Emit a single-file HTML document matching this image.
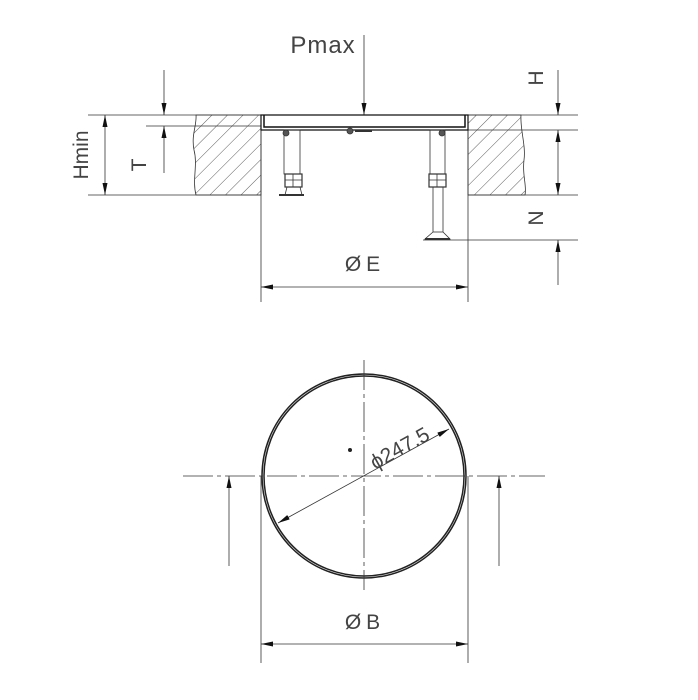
<!DOCTYPE html>
<html><head><meta charset="utf-8"><style>body{margin:0;background:#fff}svg{display:block}text{font-family:"Liberation Sans",sans-serif;fill:#444}</style></head><body>
<svg width="698" height="700" viewBox="0 0 698 700" xmlns="http://www.w3.org/2000/svg">
<defs>
<pattern id="h" width="11" height="11" patternUnits="userSpaceOnUse" patternTransform="rotate(45)"><line x1="0" y1="0" x2="0" y2="11" stroke="#333" stroke-width="0.8"/></pattern>
<marker id="a" viewBox="0 0 12 6" refX="12" refY="3" markerWidth="12" markerHeight="6" orient="auto-start-reverse" markerUnits="userSpaceOnUse"><path d="M0,0.5 L12,3 L0,5.5z" fill="#111"/></marker>
</defs>
<g stroke="#333" stroke-width="0.8" fill="none">
<path d="M196,115 H261 V195 H196 C192,180 198,165 194,150 C191,135 197,125 196,115z" fill="url(#h)"/>
<path d="M468,115 H521 C520,130 526,145 524,160 C522,175 527,185 525,195 H468z" fill="url(#h)"/>
<line x1="88" y1="115" x2="261" y2="115"/><line x1="468" y1="115" x2="578" y2="115"/>
<line x1="146" y1="126" x2="261" y2="126"/><line x1="468" y1="130" x2="578" y2="130"/>
<line x1="88" y1="195" x2="261" y2="195"/><line x1="468" y1="195" x2="578" y2="195"/>
<line x1="423" y1="240" x2="578" y2="240"/>
<line x1="261" y1="115" x2="261" y2="302"/><line x1="468" y1="115" x2="468" y2="302"/>
<line x1="105" y1="115" x2="105" y2="195" marker-start="url(#a)" marker-end="url(#a)"/>
<line x1="164" y1="70" x2="164" y2="115" marker-end="url(#a)"/>
<line x1="164" y1="173" x2="164" y2="126" marker-end="url(#a)"/>
<line x1="364" y1="35" x2="364" y2="115" marker-end="url(#a)"/>
<line x1="558" y1="70" x2="558" y2="115" marker-end="url(#a)"/>
<line x1="558" y1="130" x2="558" y2="195" marker-start="url(#a)" marker-end="url(#a)"/>
<line x1="558" y1="285" x2="558" y2="240" marker-end="url(#a)"/>
<line x1="261" y1="287" x2="468" y2="287" marker-start="url(#a)" marker-end="url(#a)"/>
<path d="M261,115 H468 V130 H261z" stroke="#111" stroke-width="1.2"/>
<path d="M264,115 V127 H465 V115" stroke="#111" stroke-width="1.5"/>
<rect x="284" y="130" width="16" height="44"/><rect x="285" y="174" width="17" height="13" stroke-width="1.2"/>
<line x1="293" y1="174" x2="293" y2="187"/><line x1="285" y1="180" x2="302" y2="180"/>
<path d="M287,187 L285,195 M300,187 L302,195"/><line x1="279" y1="195" x2="304" y2="195" stroke-width="2"/>
<circle cx="286" cy="133" r="3" fill="#555"/>
<rect x="430" y="130" width="15" height="44"/><rect x="429" y="174" width="17" height="13" stroke-width="1.2"/>
<line x1="437" y1="174" x2="437" y2="187"/><line x1="429" y1="180" x2="446" y2="180"/>
<rect x="433" y="187" width="10" height="45"/><path d="M433,232 L425,239 H450 L443,232"/>
<line x1="425" y1="239" x2="450" y2="239" stroke-width="2"/>
<circle cx="442" cy="133" r="3" fill="#555"/><circle cx="350" cy="131" r="3" fill="#555"/>
<line x1="355" y1="131" x2="372" y2="131" stroke-width="2"/>
<circle cx="364" cy="476" r="102" stroke="#222" stroke-width="1.5"/>
<circle cx="364" cy="476" r="100" stroke="#222" stroke-width="1.5"/>
<line x1="183" y1="476" x2="545" y2="476" stroke-dasharray="30,4,4,4"/>
<line x1="364" y1="360" x2="364" y2="590" stroke-dasharray="30,4,4,4"/>
<line x1="229" y1="566" x2="229" y2="476" marker-end="url(#a)"/>
<line x1="499" y1="566" x2="499" y2="476" marker-end="url(#a)"/>
<line x1="261" y1="476" x2="261" y2="663"/><line x1="468" y1="476" x2="468" y2="663"/>
<line x1="261" y1="644" x2="468" y2="644" marker-start="url(#a)" marker-end="url(#a)"/>
<line x1="278" y1="523" x2="449" y2="429" marker-start="url(#a)" marker-end="url(#a)"/>
</g>
<circle cx="350" cy="450" r="2" fill="#222"/>
<text x="323" y="53" font-size="24" text-anchor="middle" letter-spacing="1">Pmax</text>
<text x="365" y="271" font-size="21" text-anchor="middle" letter-spacing="5">ØE</text>
<text x="365" y="629" font-size="21" text-anchor="middle" letter-spacing="5">ØB</text>
<text font-size="21" text-anchor="middle" transform="translate(88,155) rotate(-90)">Hmin</text>
<text font-size="21" text-anchor="middle" transform="translate(146,165) rotate(-90)">T</text>
<text font-size="21" text-anchor="middle" transform="translate(543,78) rotate(-90)">H</text>
<text font-size="21" text-anchor="middle" transform="translate(543,218) rotate(-90)">N</text>
<text font-size="21" transform="translate(375,470) rotate(-29)">ϕ247.5</text>
</svg>
</body></html>
